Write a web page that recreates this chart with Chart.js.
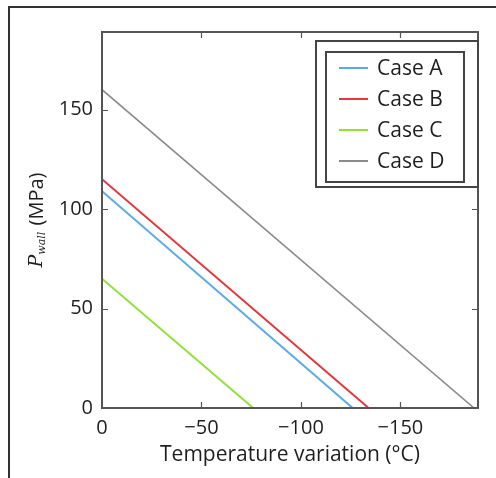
<!DOCTYPE html>
<html>
<head>
<meta charset="utf-8">
<script src="https://cdn.jsdelivr.net/npm/chart.js@4.4.0/dist/chart.umd.min.js"></script>
<style>
  html, body { margin: 0; padding: 0; background: #fff; }
  #wrap { position: relative; width: 496px; height: 478px; }
</style>
</head>
<body>
<div id="wrap"><canvas id="chart" width="496" height="478"></canvas></div>
<script>
// data: each case is a straight line from (0, P0) to (T0, 0)
const caseNames = ['Case A', 'Case B', 'Case C', 'Case D'];
const caseColors = ['#5aaae6', '#e2393f', '#92e03a', '#8a8a8a'];
const tempA = [0, -126];
const pwallA = [109, 0];
const tempB = [0, -134];
const pwallB = [115, 0];
const tempC = [0, -76];
const pwallC = [65, 0];
const tempD = [0, -187];
const pwallD = [160, 0];
const xTickValues = [0, -50, -100, -150];
const yTickValues = [0, 50, 100, 150];

const toPoints = (xs, ys) => xs.map((x, i) => ({ x: x, y: ys[i] }));
const seriesData = [
  toPoints(tempA, pwallA),
  toPoints(tempB, pwallB),
  toPoints(tempC, pwallC),
  toPoints(tempD, pwallD)
];

const sansFont = '"Open Sans", "DejaVu Sans", sans-serif';
const axisColor = '#555';
const textColor = '#1e1e1e';

// frame, inward ticks, legend box and y title drawn by hand (matplotlib look)
const extrasPlugin = {
  id: 'extras',
  beforeDraw(chart) {
    const ctx = chart.ctx;
    ctx.save();
    ctx.strokeStyle = '#333';
    ctx.lineWidth = 2;
    ctx.beginPath();
    ctx.moveTo(9, 478);
    ctx.lineTo(9, 7);
    ctx.lineTo(496, 7);
    ctx.stroke();
    ctx.restore();
  },
  afterDraw(chart) {
    const ctx = chart.ctx;
    const a = chart.chartArea;
    const xs = chart.scales.x;
    const ys = chart.scales.y;
    ctx.save();
    ctx.strokeStyle = axisColor;
    ctx.lineWidth = 2;
    ctx.strokeRect(a.left, a.top, a.right - a.left, a.bottom - a.top);

    // inward ticks
    ctx.lineWidth = 1.2;
    ctx.beginPath();
    xTickValues.forEach(v => {
      const px = Math.round(xs.getPixelForValue(v)) + 0.5;
      if (v === 0) return;
      ctx.moveTo(px, a.bottom); ctx.lineTo(px, a.bottom - 6);
      ctx.moveTo(px, a.top); ctx.lineTo(px, a.top + 6);
    });
    yTickValues.forEach(v => {
      const py = Math.round(ys.getPixelForValue(v)) + 0.5;
      if (v === 0) return;
      ctx.moveTo(a.left, py); ctx.lineTo(a.left + 6, py);
      ctx.moveTo(a.right, py); ctx.lineTo(a.right - 6, py);
    });
    ctx.stroke();

    // legend (double box)
    ctx.fillStyle = '#fff';
    ctx.fillRect(316, 41, a.right - 316, 146);
    ctx.strokeStyle = '#444';
    ctx.lineWidth = 2;
    ctx.strokeRect(316, 41, a.right - 316, 146);
    ctx.strokeRect(326, 52, 138, 130);
    ctx.font = '21px ' + sansFont;
    ctx.textBaseline = 'middle';
    ctx.textAlign = 'left';
    caseNames.forEach((name, i) => {
      const y = 68 + i * 31;
      ctx.strokeStyle = caseColors[i];
      ctx.lineWidth = 2;
      ctx.beginPath();
      ctx.moveTo(339, y); ctx.lineTo(368, y);
      ctx.stroke();
      ctx.fillStyle = textColor;
      ctx.fillText(name, 377, y + 1);
    });

    // y axis title: P_wall (MPa)
    ctx.translate(37, (a.top + a.bottom) / 2);
    ctx.rotate(-Math.PI / 2);
    ctx.fillStyle = textColor;
    ctx.textBaseline = 'middle';
    const pFont = 'italic 19px "DejaVu Serif", serif';
    const subFont = 'italic 11px "DejaVu Serif", serif';
    const restFont = '20px ' + sansFont;
    ctx.font = pFont; const wP = ctx.measureText('P').width;
    ctx.font = subFont; const wSub = ctx.measureText('wall').width;
    ctx.font = restFont; const wRest = ctx.measureText(' (MPa)').width;
    let x0 = -(wP + wSub + 1 + wRest) / 2;
    ctx.textAlign = 'left';
    ctx.font = pFont; ctx.fillText('P', x0, 0); x0 += wP;
    ctx.font = subFont; ctx.fillText('wall', x0, 5); x0 += wSub + 1;
    ctx.font = restFont; ctx.fillText(' (MPa)', x0, 0);
    ctx.restore();
  }
};

new Chart(document.getElementById('chart'), {
  type: 'scatter',
  data: {
    datasets: caseNames.map((name, i) => ({
      label: name,
      data: seriesData[i],
      showLine: true,
      borderColor: caseColors[i],
      borderWidth: i === 3 ? 1.6 : 2,
      pointRadius: 0,
      fill: false
    }))
  },
  options: {
    responsive: false,
    animation: false,
    layout: { padding: { left: 0, top: 32, right: 18, bottom: 0 } },
    plugins: {
      legend: { display: false },
      tooltip: { enabled: false }
    },
    scales: {
      x: {
        type: 'linear',
        reverse: true,
        min: -189,
        max: 0,
        afterBuildTicks: s => { s.ticks = xTickValues.map(v => ({ value: v })); },
        afterFit: s => { s.height = 70; },
        grid: { display: false, drawTicks: false },
        border: { display: true, color: axisColor, width: 2 },
        ticks: {
          padding: 8,
          color: textColor,
          font: { family: sansFont, size: 20 },
          callback: v => String(v).replace('-', '\u2212')
        },
        title: {
          display: true,
          text: 'Temperature variation (\u00b0C)',
          color: textColor,
          padding: { top: 0, bottom: 10 },
          font: { family: sansFont, size: 21 }
        }
      },
      y: {
        type: 'linear',
        min: 0,
        max: 189,
        afterBuildTicks: s => { s.ticks = yTickValues.map(v => ({ value: v })); },
        afterFit: s => { s.width = 102; },
        grid: { display: false, drawTicks: false },
        border: { display: true, color: axisColor, width: 2 },
        ticks: {
          padding: 9,
          color: textColor,
          font: { family: sansFont, size: 20 }
        }
      }
    }
  },
  plugins: [extrasPlugin]
});
</script>
</body>
</html>
